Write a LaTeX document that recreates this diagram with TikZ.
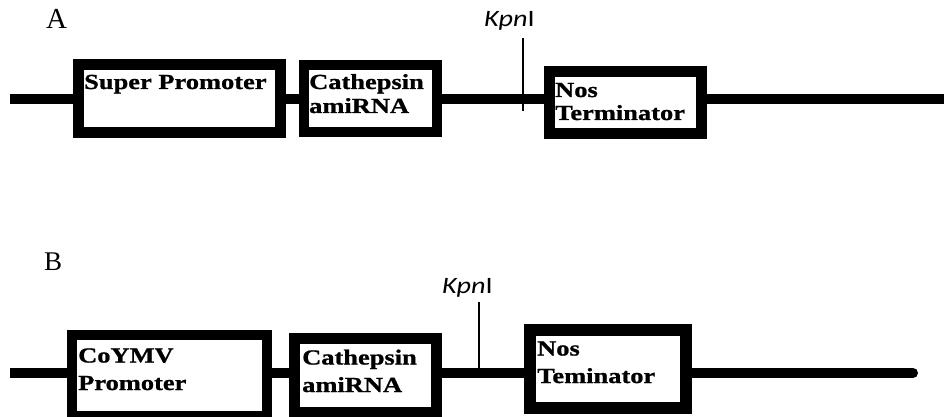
\documentclass[tikz,border=0pt]{standalone}
\usepackage{fontspec}
\setmainfont{Liberation Serif}
\newfontfamily\bxfont[FakeStretch=1.23,FakeBold=1]{Liberation Serif}
\newfontfamily\kfont[FakeStretch=1.2]{Carlito}
\begin{document}
\begin{tikzpicture}[x=1pt,y=-1pt,
  backbone/.style={line width=10pt},
  gbox/.style={draw, fill=white, line width=11pt, inner sep=0pt, outer sep=0pt},
  btext/.style={anchor=base west, inner sep=0pt, align=left, font=\bxfont\bfseries\fontsize{21.5}{24}\selectfont},
  btextB/.style={btext, font=\bxfont\bfseries\fontsize{21.5}{27.5}\selectfont},
  klabel/.style={anchor=base west, inner sep=0pt, font=\kfont\fontsize{23.5}{24}\selectfont},
  panel/.style={anchor=base west, inner sep=0pt},
  site/.style={line width=1.5pt}]
\useasboundingbox[fill=white] (0,0) rectangle (944,417);

% ---------- A ----------
\node[panel, font=\fontsize{29}{30}\selectfont] (labA) at (46,29) {A};
\coordinate (as) at (10,99);
\coordinate (ae) at (948,99);
\node[gbox, minimum width=202pt, minimum height=67.5pt] (A1) at (179.5,98.75) {};
\node[gbox, minimum width=133pt, minimum height=66pt, line width=10pt] (A2) at (370,98.5) {};
\node[gbox, minimum width=152.5pt, minimum height=62pt] (A3) at (625.25,102.5) {};
\draw[backbone] (as) -- (as -| A1.west);
\draw[backbone] (as -| A1.east) -- (as -| A2.west);
\draw[backbone] (as -| A2.east) -- (as -| A3.west);
\draw[backbone] (as -| A3.east) -- (ae);
\node[btext] (tA1) at (84,89) {Super Promoter};
\node[btext] (tA2) at (309,113) {Cathepsin\\amiRNA};
\node[btext, font=\bxfont\bfseries\fontsize{21.5}{23}\selectfont] (tA3) at (555,120) {Nos\\Terminator};
\node[klabel] (kpnA) at (484,27) {\textit{Kpn}I};
\coordinate (kA1) at (523,38);
\coordinate (kA2) at (523,111);
\draw[site] (kA1) -- (kA2);

% ---------- B ----------
\node[panel, font=\fontsize{27}{28}\selectfont] (labB) at (44,270) {B};
\coordinate (bs) at (10,373);
\coordinate (be) at (913,373);
\node[gbox, minimum width=195pt, minimum height=81pt, line width=10pt] (B1) at (169.5,375.5) {};
\node[gbox, minimum width=141.5pt, minimum height=74pt] (B2) at (365.25,375) {};
\node[gbox, minimum width=156.5pt, minimum height=78.5pt, line width=12pt] (B3) at (607.75,368.75) {};
\draw[backbone] (bs) -- (bs -| B1.west);
\draw[backbone] (bs -| B1.east) -- (bs -| B2.west);
\draw[backbone] (bs -| B2.east) -- (bs -| B3.west);
\draw[backbone, line cap=round] (bs -| B3.east) -- (be);
\node[btextB] (tB1) at (78,390) {CoYMV\\Promoter};
\node[btextB] (tB2) at (302,392) {Cathepsin\\amiRNA};
\node[btextB] (tB3) at (537,383) {Nos\\Teminator};
\node[klabel] (kpnB) at (442,293) {\textit{Kpn}I};
\coordinate (kB1) at (479,302);
\coordinate (kB2) at (479,368);
\draw[site] (kB1) -- (kB2);
\end{tikzpicture}
\end{document}
